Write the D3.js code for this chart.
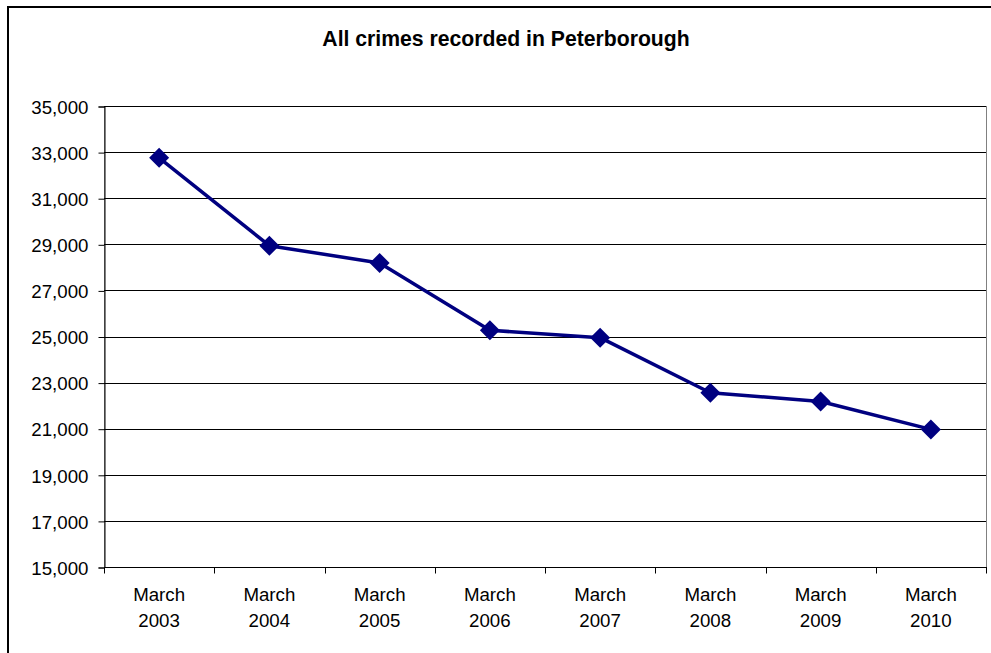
<!DOCTYPE html>
<html><head><meta charset="utf-8">
<script src="https://cdn.jsdelivr.net/npm/d3@7"></script>
<style>body{margin:0;background:#fff}svg{display:block}</style>
</head><body>
<script>
const categories = [["March","2003"],["March","2004"],["March","2005"],["March","2006"],["March","2007"],["March","2008"],["March","2009"],["March","2010"]];
const crimes = [32750, 28940, 28190, 25270, 24950, 22560, 22180, 20970];
const yTicks = [15000,17000,19000,21000,23000,25000,27000,29000,31000,33000,35000];
const title = "All crimes recorded in Peterborough";

const W = 991, H = 653;
const L = 104, R = 986, T = 106, B = 567;
const svg = d3.select("body").append("svg").attr("width", W).attr("height", H);
const font = "'Liberation Sans', Arial, sans-serif";

// outer chart border
svg.append("rect").attr("x", 8).attr("y", 7).attr("width", 1100).attr("height", 800)
  .attr("fill", "none").attr("stroke", "#000").attr("stroke-width", 2);

svg.append("text").attr("x", 506).attr("y", 46).attr("text-anchor", "middle")
  .attr("font-family", font).attr("font-weight", "bold").attr("font-size", 21.2)
  .text(title);

const keys = categories.map(d => d.join(" "));
const x = d3.scaleBand().domain(keys).range([L, R]).padding(0);
const y = d3.scaleLinear().domain([15000, 35000]).range([B, T]);

// plot border (grey)
svg.append("rect").attr("x", L + 0.5).attr("y", T + 0.5).attr("width", R - L).attr("height", B - T)
  .attr("fill", "none").attr("stroke", "#808080").attr("stroke-width", 1);

// gridlines
svg.append("g").selectAll("line").data(yTicks.filter(v => v > 15000)).join("line")
  .attr("x1", L).attr("x2", R)
  .attr("y1", d => Math.round(y(d)) + 0.5).attr("y2", d => Math.round(y(d)) + 0.5)
  .attr("stroke", "#000").attr("stroke-width", 1);

// y axis
const yAxis = d3.axisLeft(y).tickValues(yTicks).tickSize(6).tickPadding(10)
  .tickFormat(d3.format(","));
const gy = svg.append("g").attr("transform", `translate(${L + 0.5},0.5)`).call(yAxis);
gy.select(".domain").attr("stroke", "#000");
gy.selectAll(".tick line").attr("stroke", "#000");
gy.selectAll("text").attr("font-family", font).attr("font-size", 18.7).attr("fill", "#000")
  .attr("dy", "0.36em");

// x axis: ticks at band boundaries
const gx = svg.append("g").attr("transform", `translate(0,${B + 0.5})`);
gx.append("line").attr("x1", L).attr("x2", R + 1).attr("stroke", "#000");
const bounds = keys.map(k => x(k)).concat([x(keys[keys.length - 1]) + x.bandwidth()]);
gx.selectAll("line.tk").data(bounds).join("line").attr("class", "tk")
  .attr("x1", d => Math.round(d) + 0.5).attr("x2", d => Math.round(d) + 0.5)
  .attr("y1", 0).attr("y2", 6).attr("stroke", "#000");
const lbl = gx.selectAll("text").data(categories).join("text")
  .attr("x", (d, i) => x(keys[i]) + x.bandwidth() / 2)
  .attr("text-anchor", "middle").attr("font-family", font).attr("font-size", 18.7).attr("fill", "#000");
lbl.append("tspan").attr("x", (d, i) => x(keys[i]) + x.bandwidth() / 2).attr("y", 33).text(d => d[0]);
lbl.append("tspan").attr("x", (d, i) => x(keys[i]) + x.bandwidth() / 2).attr("y", 59).text(d => d[1]);

// line
const line = d3.line().x((d, i) => x(keys[i]) + x.bandwidth() / 2).y(d => y(d));
svg.append("path").datum(crimes).attr("d", line).attr("fill", "none")
  .attr("stroke", "#000080").attr("stroke-width", 3.5).attr("stroke-linejoin", "round");

// markers
const s = 10;
svg.append("g").selectAll("path").data(crimes).join("path")
  .attr("transform", (d, i) => `translate(${x(keys[i]) + x.bandwidth() / 2},${y(d)})`)
  .attr("d", `M0,${-s}L${s},0L0,${s}L${-s},0Z`).attr("fill", "#000080");
</script>
</body></html>
